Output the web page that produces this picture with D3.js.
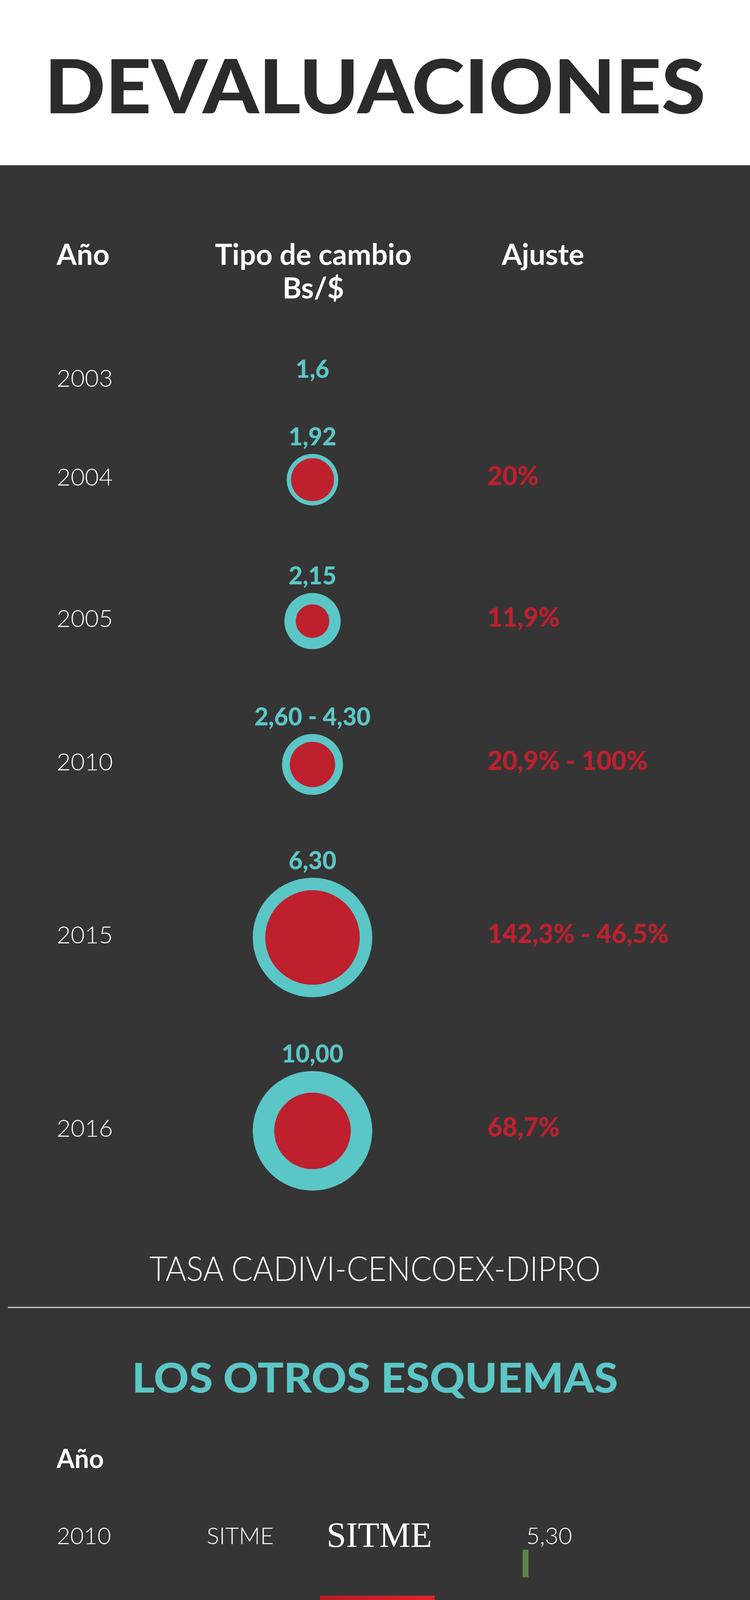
<!DOCTYPE html>
<html><head><meta charset="utf-8">
<script src="https://cdn.jsdelivr.net/npm/d3@7"></script>
<style>html,body{margin:0;background:#353535}svg{display:block}</style>
</head><body>
<svg id="c" width="1920" height="5104" font-family="Lato, 'Open Sans', sans-serif"></svg>
<script>
// ---- data ----
const years = ["2003","2004","2005","2010","2015","2016"];
const rateLabels = ["1,6","1,92","2,15","2,60 - 4,30","6,30","10,00"];
const adjustLabels = ["","20%","11,9%","20,9% - 100%","142,3% - 46,5%","68,7%"];
const bubbleOuter = [0,66,72,78,153,153];   // estimated bubble sizes
const bubbleInner = [0,55,43,58,121,98];
const otherYears = ["2010","2013","2014","2015"];
const otherNames = ["SITME","SICAD 1","SICAD 2","SIMADI"];
const otherValues = [5.30,10.00,52.00,170.00];
const otherLabels = ["5,30","10,00","52,00","170,00"];
const logos = ["sitme","sicad","sicad","simadi"];

// ---- layout ----
const rowY = [985,1238,1600,1967,2410,2905];
const otherRowY = [3953,4180,4413,4627];

const svg = d3.select("#c");
const teal="#5bc6c6", red="#be202e", green="#5b8341";
svg.append("rect").attr("width",1920).attr("height",5104).attr("fill","#353535");
svg.append("rect").attr("width",1920).attr("height",423).attr("fill","#fff");
svg.append("text").attr("x",960).attr("y",290).attr("text-anchor","middle")
  .attr("font-size",190).attr("font-weight",900).attr("fill","#2b2b2b")
  .attr("textLength",1692).attr("lengthAdjust","spacingAndGlyphs").text("DEVALUACIONES");

const hdr = (x,y,t,a,fs)=>svg.append("text").attr("x",x).attr("y",y).attr("text-anchor",a||"start")
  .attr("font-size",fs||74).attr("font-weight",700).attr("fill","#fff").text(t);
hdr(145,678,"Año");
hdr(802,678,"Tipo de cambio","middle");
hdr(802,764,"Bs/$","middle");
hdr(1390,678,"Ajuste","middle");

const r = d3.scaleLinear().domain([0,153]).range([0,153]);
const g = svg.append("g");
years.forEach((yr,i)=>{
  const cy = rowY[i] - 10;
  g.append("text").attr("x",145).attr("y",rowY[i]+5).attr("font-size",62).attr("font-weight",300)
    .attr("fill","#fff").text(yr);
  const ro = r(bubbleOuter[i]);
  if(ro>0){
    g.append("circle").attr("cx",800).attr("cy",cy).attr("r",ro).attr("fill",teal);
    g.append("circle").attr("cx",800).attr("cy",cy).attr("r",r(bubbleInner[i])).attr("fill",red);
  }
  g.append("text").attr("x",800).attr("y",ro>0? cy-ro-22 : 967).attr("text-anchor","middle")
    .attr("font-size",62).attr("font-weight",900).attr("fill",teal).text(rateLabels[i]);
  if(adjustLabels[i]) g.append("text").attr("x",1248).attr("y",cy+14).attr("font-size",66)
    .attr("font-weight",900).attr("fill",red).text(adjustLabels[i]);
});

svg.append("text").attr("x",960).attr("y",3279).attr("text-anchor","middle").attr("font-size",86)
  .attr("font-weight",300).attr("fill","#fff").attr("textLength",1155).attr("lengthAdjust","spacingAndGlyphs")
  .text("TASA CADIVI-CENCOEX-DIPRO");
svg.append("line").attr("x1",20).attr("x2",1920).attr("y1",3347).attr("y2",3347)
  .attr("stroke","#d0d0d0").attr("stroke-width",3);
svg.append("text").attr("x",960).attr("y",3565).attr("text-anchor","middle").attr("font-size",104)
  .attr("font-weight",900).attr("fill",teal).attr("textLength",1244).attr("lengthAdjust","spacingAndGlyphs")
  .text("LOS OTROS ESQUEMAS");
hdr(145,3758,"Año","start",66);

const defs = svg.append("defs");
const gr = defs.append("linearGradient").attr("id","sg").attr("x1",0).attr("y1",0).attr("x2",1).attr("y2",1);
gr.append("stop").attr("offset",0).attr("stop-color","#b51d25");
gr.append("stop").attr("offset",0.5).attr("stop-color","#e0202a");
gr.append("stop").attr("offset",1).attr("stop-color","#a81a22");

const x = d3.scaleLinear().domain([0,170]).range([0,482]);
otherYears.forEach((yr,i)=>{
  const y = otherRowY[i];
  svg.append("text").attr("x",145).attr("y",y).attr("font-size",60).attr("font-weight",300).attr("fill","#fff").text(yr);
  svg.append("text").attr("x",529).attr("y",y).attr("font-size",60).attr("font-weight",300).attr("fill","#fff").text(otherNames[i]);
  svg.append("text").attr("x",1347).attr("y",y).attr("font-size",60).attr("font-weight",300).attr("fill","#fff").text(otherLabels[i]);
  svg.append("rect").attr("x",1338).attr("y",y+14).attr("width",x(otherValues[i])).attr("height",71).attr("fill",green);
  const lg = svg.append("g").attr("transform",`translate(819,${y-90})`);
  if(logos[i]==="sitme"){
    lg.append("text").attr("x",17).attr("y",97).attr("font-family","'Liberation Serif', 'DejaVu Serif', serif")
      .attr("font-size",92).attr("fill","#fff").attr("textLength",270).attr("lengthAdjust","spacingAndGlyphs").text("SITME");
  } else if(logos[i]==="sicad"){
    lg.append("rect").attr("y",-5).attr("width",294).attr("height",137).attr("fill","url(#sg)");
    lg.append("text").attr("x",147).attr("y",103).attr("text-anchor","middle").attr("font-size",118)
      .attr("font-family","'Liberation Sans Narrow', 'Liberation Sans', sans-serif")
      .attr("font-weight",700).attr("fill","#f2f2f2").attr("stroke","#999").attr("stroke-width",1)
      .attr("textLength",182).attr("lengthAdjust","spacingAndGlyphs").text("SICAD");
    lg.append("text").attr("x",147).attr("y",122).attr("text-anchor","middle").attr("font-size",8)
      .attr("fill","#fff").attr("textLength",175).attr("lengthAdjust","spacingAndGlyphs")
      .text("SISTEMA COMPLEMENTARIO DE ADMINISTRACIÓN DE DIVISAS");
  } else {
    lg.append("rect").attr("y",-10).attr("width",294).attr("height",137).attr("fill","#fff");
    lg.append("path").attr("d","M10,50 C80,20 200,30 290,40 L290,60 C200,50 80,40 10,70Z").attr("fill","#f6e15a");
    lg.append("path").attr("d","M10,75 C80,50 200,55 290,65 L290,85 C200,75 100,75 10,95Z").attr("fill","#9ec5e8");
    lg.append("path").attr("d","M20,95 C100,80 200,85 285,95 L280,108 C200,100 110,100 40,115Z").attr("fill","#f08a6a");
    lg.append("text").attr("x",147).attr("y",92).attr("text-anchor","middle").attr("font-size",80)
      .attr("font-weight",900).attr("font-style","italic").attr("fill","#1c3f94")
      .attr("textLength",270).attr("lengthAdjust","spacingAndGlyphs").text("SIMADI");
    lg.append("text").attr("x",147).attr("y",112).attr("text-anchor","middle").attr("font-size",14)
      .attr("font-weight",700).attr("font-style","italic").attr("fill","#1c3f94")
      .attr("textLength",270).attr("lengthAdjust","spacingAndGlyphs").text("SISTEMA MARGINAL DE DIVISAS - SIMADI.CO");
  }
});
svg.append("text").attr("x",485).attr("y",4637).attr("text-anchor","middle").attr("font-size",80)
  .attr("font-weight",900).attr("fill","#fff").text("✱");

svg.append("text").attr("x",159).attr("y",4854).attr("font-size",40).attr("fill","#fff")
  .attr("textLength",647).attr("lengthAdjust","spacingAndGlyphs").text("Tipos de cambio de inicio Bs/$");
svg.append("text").attr("x",122).attr("y",4915).attr("text-anchor","middle").attr("font-size",60)
  .attr("font-weight",900).attr("fill","#fff").text("✱");
svg.append("text").attr("x",178).attr("y",4907).attr("font-size",40).attr("fill","#fff")
  .attr("textLength",1337).attr("lengthAdjust","spacingAndGlyphs")
  .text("La tasa de cambio al 2 de febrero de 2017 se ubicó en Bs 689,68");
</script></body></html>
